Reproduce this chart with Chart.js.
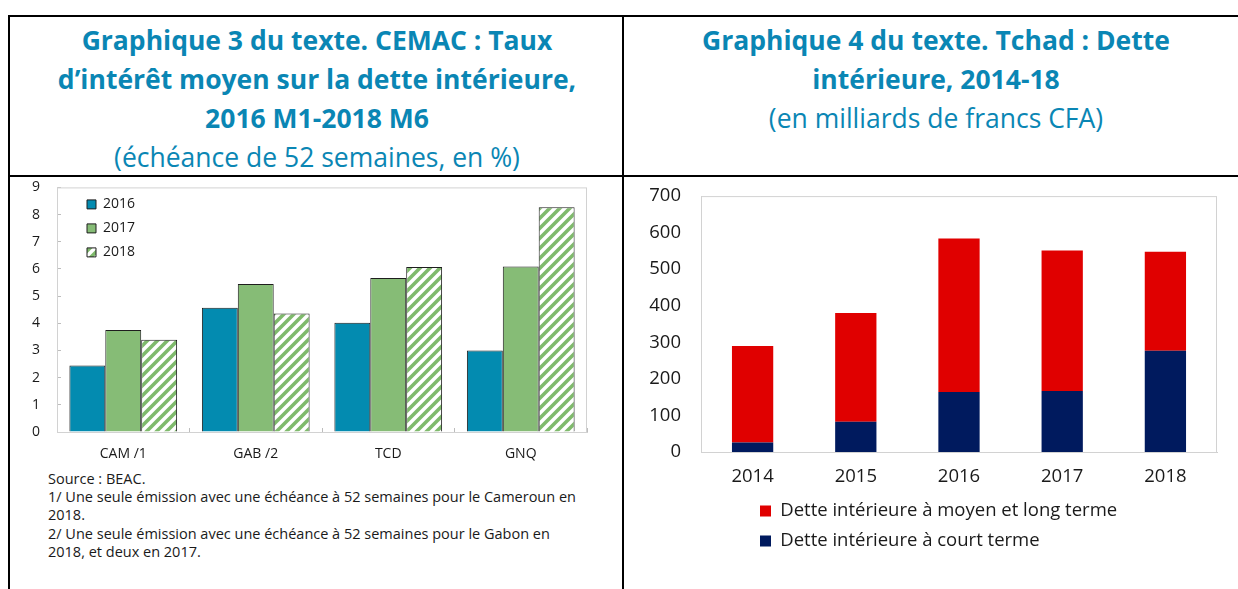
<!DOCTYPE html>
<html>
<head>
<meta charset="utf-8">
<script src="https://cdn.jsdelivr.net/npm/chart.js@4/dist/chart.umd.min.js"></script>
<style>
  html, body { margin:0; padding:0; }
  body { width:1238px; height:589px; overflow:hidden; background:#fff; position:relative; font-family:'Open Sans', sans-serif; }
  .ln { position:absolute; background:#000; }
  .title { position:absolute; text-align:center; color:#0A86B4; line-height:39px; }
  .title b { font-size:26.5px; font-weight:700; display:block; white-space:nowrap; }
  .title span { font-size:26.5px; font-weight:400; display:block; white-space:nowrap; }
  .notes { position:absolute; left:48px; top:470px; font-size:14.5px; line-height:18.2px; color:#1a1a1a; white-space:nowrap; }
  .cv { position:absolute; }
</style>
</head>
<body>
<!-- table borders -->
<div class="ln" style="left:8px;top:15px;width:1240px;height:2px;"></div>
<div class="ln" style="left:8px;top:175px;width:1240px;height:2px;"></div>
<div class="ln" style="left:8px;top:15px;width:2px;height:580px;"></div>
<div class="ln" style="left:622px;top:15px;width:2px;height:580px;"></div>

<div class="title" style="left:10px;width:614px;top:21px;">
  <b>Graphique 3 du texte. CEMAC : Taux</b>
  <b>d’intérêt moyen sur la dette intérieure,</b>
  <b>2016 M1-2018 M6</b>
  <span>(échéance de 52 semaines, en %)</span>
</div>
<div class="title" style="left:624px;width:624px;top:21px;">
  <b>Graphique 4 du texte. Tchad : Dette</b>
  <b>intérieure, 2014-18</b>
  <span>(en milliards de francs CFA)</span>
</div>

<div class="notes">
  Source : BEAC.<br>
  1/ Une seule émission avec une échéance à 52 semaines pour le Cameroun en<br>
  2018.<br>
  2/ Une seule émission avec une échéance à 52 semaines pour le Gabon en<br>
  2018, et deux en 2017.
</div>

<canvas id="cemac" class="cv" width="600" height="290" style="left:10px;top:178px;"></canvas>
<canvas id="tchad" class="cv" width="600" height="380" style="left:630px;top:180px;"></canvas>

<script>
// ---- Data: Graphique 3 (CEMAC) ----
const cemacCategories = ['CAM /1', 'GAB /2', 'TCD', 'GNQ'];
const rate2016 = [2.45, 4.57, 4.02, 3.00];
const rate2017 = [3.75, 5.45, 5.67, 6.09];
const rate2018 = [3.39, 4.36, 6.07, 8.27];
const cemacSeriesNames = ['2016', '2017', '2018'];
const cemacYMin = 0, cemacYMax = 9, cemacYStep = 1;

// ---- Data: Graphique 4 (Tchad) ----
const tchadYears = ['2014', '2015', '2016', '2017', '2018'];
const shortTermDebt = [26, 83, 164, 167, 277];
const mediumLongTermDebt = [264, 297, 420, 384, 271];
const tchadSeriesNames = ['Dette intérieure à court terme', 'Dette intérieure à moyen et long terme'];
const tchadYMin = 0, tchadYMax = 700, tchadYStep = 100;

Chart.defaults.font.family = "'Open Sans', sans-serif";
Chart.defaults.color = '#1a1a1a';

function makeHatch() {
  const c = document.createElement('canvas');
  c.width = 10; c.height = 10;
  const g = c.getContext('2d');
  g.fillStyle = '#ffffff';
  g.fillRect(0, 0, 10, 10);
  g.strokeStyle = '#7FBA6C';
  g.lineWidth = 3.6;
  g.beginPath();
  g.moveTo(-5, 5); g.lineTo(5, -5);
  g.moveTo(0, 10); g.lineTo(10, 0);
  g.moveTo(5, 15); g.lineTo(15, 5);
  g.stroke();
  return g.createPattern(c, 'repeat');
}

const framePlugin = {
  id: 'frame',
  beforeDatasetsDraw(chart, args, opts) {
    const { ctx, chartArea: { left, top, right, bottom } } = chart;
    ctx.save();
    ctx.strokeStyle = opts.color || '#d4d4d4';
    ctx.lineWidth = 1;
    ctx.strokeRect(left + 0.5, top + 0.5, right - left - 1, bottom - top);
    ctx.restore();
  }
};

// place the legend relative to the chart area
const legendShift = {
  id: 'legendShift',
  afterLayout(chart, args, opts) {
    const l = chart.legend;
    if (!l) return;
    const ca = chart.chartArea;
    const w = l.width, h = l.height;
    l.left = ca.left + opts.dx;
    l.top = ca.top + opts.dy;
    l.right = l.left + w;
    l.bottom = l.top + h;
  }
};

// size and move a canvas so that its plot area lands on the given page box
function placePlotArea(chart, t) {
  for (let i = 0; i < 4; i++) {
    const ca = chart.chartArea;
    const dh = (t.bottom - t.top) - (ca.bottom - ca.top);
    const dw = (t.right - t.left) - (ca.right - ca.left);
    if (Math.abs(dh) < 0.5 && Math.abs(dw) < 0.5) break;
    chart.resize(Math.round(chart.width + dw), Math.round(chart.height + dh));
  }
  const ca = chart.chartArea;
  chart.canvas.style.left = (t.left - ca.left) + 'px';
  chart.canvas.style.top = (t.top - ca.top) + 'px';
}

// ---- Chart 3 ----
const hatch = makeHatch();
const chart3 = new Chart(document.getElementById('cemac'), {
  type: 'bar',
  data: {
    labels: cemacCategories,
    datasets: [
      { label: cemacSeriesNames[0], data: rate2016, backgroundColor: '#038BB0', borderColor: '#1e1e1e', borderWidth: 1 },
      { label: cemacSeriesNames[1], data: rate2017, backgroundColor: '#86BC76', borderColor: '#1e1e1e', borderWidth: 1 },
      { label: cemacSeriesNames[2], data: rate2018, backgroundColor: hatch, borderColor: '#1e1e1e', borderWidth: 1 }
    ]
  },
  options: {
    responsive: false,
    maintainAspectRatio: false,
    animation: false,
    devicePixelRatio: 1,
    datasets: { bar: { barPercentage: 1, categoryPercentage: 0.813 } },
    layout: { padding: { top: 9, right: 23, left: 0, bottom: 0 } },
    scales: {
      x: {
        grid: { display: true, drawOnChartArea: false, tickLength: -4, color: '#bdbdbd', offset: true },
        border: { color: '#cfcfcf' },
        ticks: { font: { size: 14 }, padding: 18, color: '#1a1a1a' },
        afterFit: (s) => { s.height = 36; }
      },
      y: {
        min: cemacYMin, max: cemacYMax,
        grid: { display: true, drawOnChartArea: false, tickLength: -4, color: '#bdbdbd' },
        border: { color: '#cfcfcf' },
        ticks: { stepSize: cemacYStep, font: { size: 14 }, padding: 21, color: '#1a1a1a' },
        afterFit: (s) => { s.width = 47; }
      }
    },
    plugins: {
      legend: {
        position: 'chartArea',
        fullSize: false,
        align: 'start',
        labels: { boxWidth: 9, boxHeight: 9, padding: 10, font: { size: 14 }, color: '#1a1a1a' }
      },
      tooltip: { enabled: false },
      frame: { color: '#d2d2d2' },
      legendShift: { dx: 20, dy: 0 }
    }
  },
  plugins: [framePlugin, legendShift]
});
placePlotArea(chart3, { left: 57, top: 187, right: 587, bottom: 432 });

// ---- Chart 4 ----
const chart4 = new Chart(document.getElementById('tchad'), {
  type: 'bar',
  data: {
    labels: tchadYears,
    datasets: [
      { label: tchadSeriesNames[0], data: shortTermDebt, backgroundColor: '#001A5E', borderWidth: 0 },
      { label: tchadSeriesNames[1], data: mediumLongTermDebt, backgroundColor: '#E00000', borderWidth: 0 }
    ]
  },
  options: {
    responsive: false,
    maintainAspectRatio: false,
    animation: false,
    devicePixelRatio: 1,
    datasets: { bar: { barPercentage: 1, categoryPercentage: 0.40 } },
    layout: { padding: { top: 16, right: 13, left: 0, bottom: 48 } },
    scales: {
      x: {
        stacked: true,
        grid: { display: false, drawTicks: false },
        border: { color: '#cfcfcf' },
        ticks: { font: { size: 18.5 }, padding: 14, color: '#1a1a1a' },
        afterFit: (s) => { s.height = 60; }
      },
      y: {
        stacked: true,
        min: tchadYMin, max: tchadYMax,
        grid: { display: false, drawTicks: false },
        border: { color: '#cfcfcf' },
        ticks: { stepSize: tchadYStep, font: { size: 18.5 }, padding: 20, color: '#1a1a1a' },
        afterFit: (s) => { s.width = 71; }
      }
    },
    plugins: {
      legend: {
        position: 'chartArea',
        fullSize: false,
        align: 'start',
        reverse: true,
        labels: { boxWidth: 11, boxHeight: 11, padding: 11.5, font: { size: 18.5 }, color: '#1a1a1a' }
      },
      tooltip: { enabled: false },
      frame: { color: '#d2d2d2' },
      legendShift: { dx: 47.5, dy: 294.25 }
    }
  },
  plugins: [framePlugin, legendShift]
});
placePlotArea(chart4, { left: 701, top: 196, right: 1217, bottom: 452 });
</script>
</body>
</html>
